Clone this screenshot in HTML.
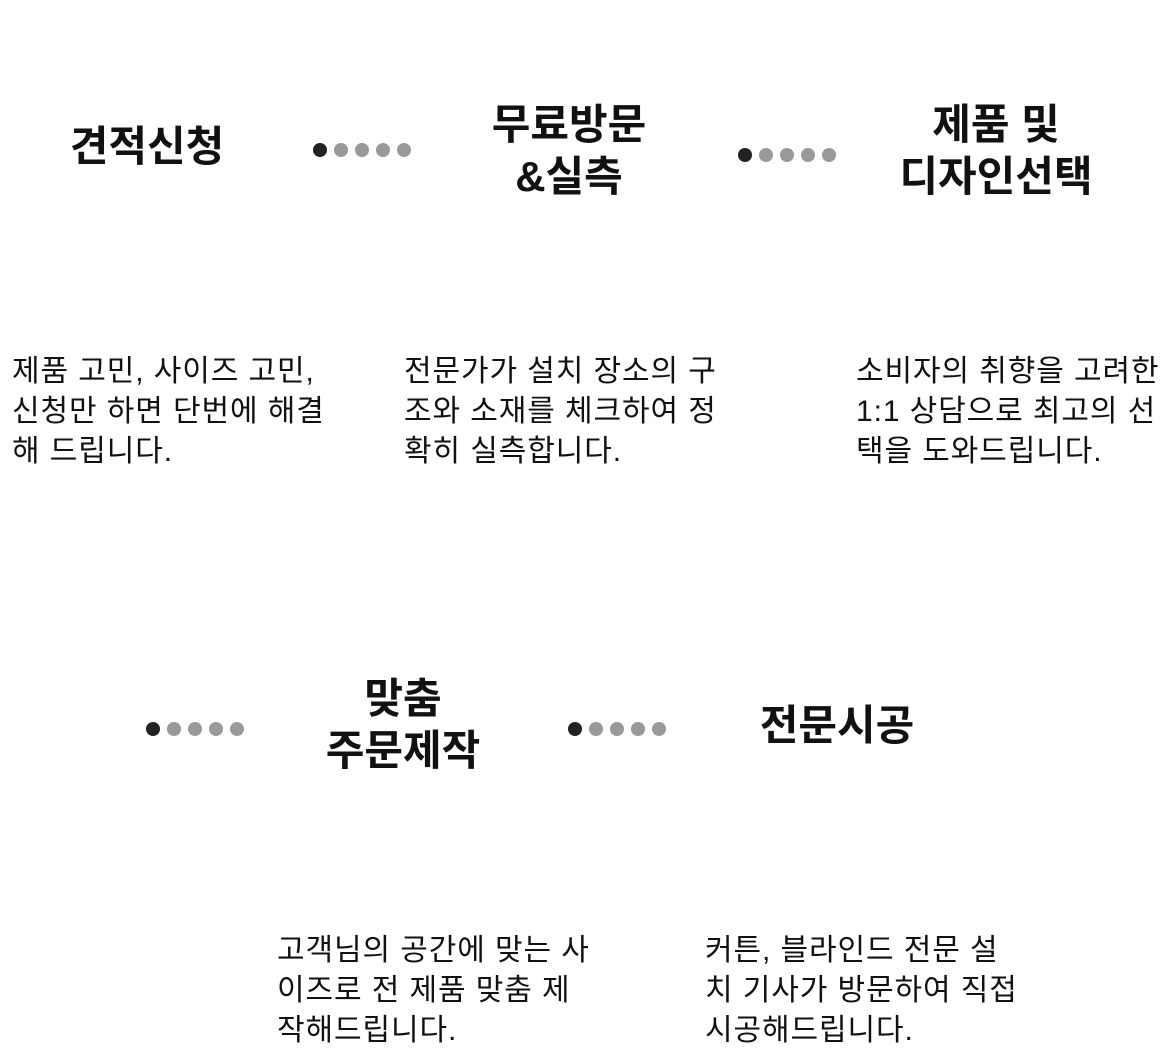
<!DOCTYPE html>
<html><head><meta charset="utf-8"><style>
body{margin:0;width:1161px;height:1044px;background:#fff;position:relative;overflow:hidden;font-family:"Liberation Sans","Noto Sans CJK KR",sans-serif;color:#111}
.t{position:absolute;font-weight:700;font-size:42px;line-height:52px;text-align:center;width:300px;letter-spacing:0px}
.d{position:absolute;font-size:30px;line-height:40px;white-space:nowrap;letter-spacing:0.9px}
.dots{position:absolute;height:14px}
.dots i{position:absolute;top:0;width:14px;height:14px;border-radius:50%;background:#999}
.dots i:first-child{background:#222}
</style></head><body>
<div class="t" style="left:-3px;top:121px">견적신청</div>
<div class="t" style="left:419px;top:99px">무료방문<br>&amp;실측</div>
<div class="t" style="left:846px;top:99px">제품 및<br>디자인선택</div>
<div class="t" style="left:253px;top:673px">맞춤<br>주문제작</div>
<div class="t" style="left:687px;top:700px">전문시공</div>

<div class="dots" style="left:313px;top:143px"><i style="left:0"></i><i style="left:21px"></i><i style="left:42px"></i><i style="left:63px"></i><i style="left:84px"></i></div>
<div class="dots" style="left:738px;top:148px"><i style="left:0"></i><i style="left:21px"></i><i style="left:42px"></i><i style="left:63px"></i><i style="left:84px"></i></div>
<div class="dots" style="left:146px;top:722px"><i style="left:0"></i><i style="left:21px"></i><i style="left:42px"></i><i style="left:63px"></i><i style="left:84px"></i></div>
<div class="dots" style="left:568px;top:722px"><i style="left:0"></i><i style="left:21px"></i><i style="left:42px"></i><i style="left:63px"></i><i style="left:84px"></i></div>

<div class="d" style="left:12px;top:352px">제품 고민, 사이즈 고민,<br>신청만 하면 단번에 해결<br>해 드립니다.</div>
<div class="d" style="left:404px;top:352px">전문가가 설치 장소의 구<br>조와 소재를 체크하여 정<br>확히 실측합니다.</div>
<div class="d" style="left:856px;top:352px">소비자의 취향을 고려한<br>1:1 상담으로 최고의 선<br>택을 도와드립니다.</div>
<div class="d" style="left:277px;top:931px">고객님의 공간에 맞는 사<br>이즈로 전 제품 맞춤 제<br>작해드립니다.</div>
<div class="d" style="left:705px;top:931px">커튼, 블라인드 전문 설<br>치 기사가 방문하여 직접<br>시공해드립니다.</div>
</body></html>
